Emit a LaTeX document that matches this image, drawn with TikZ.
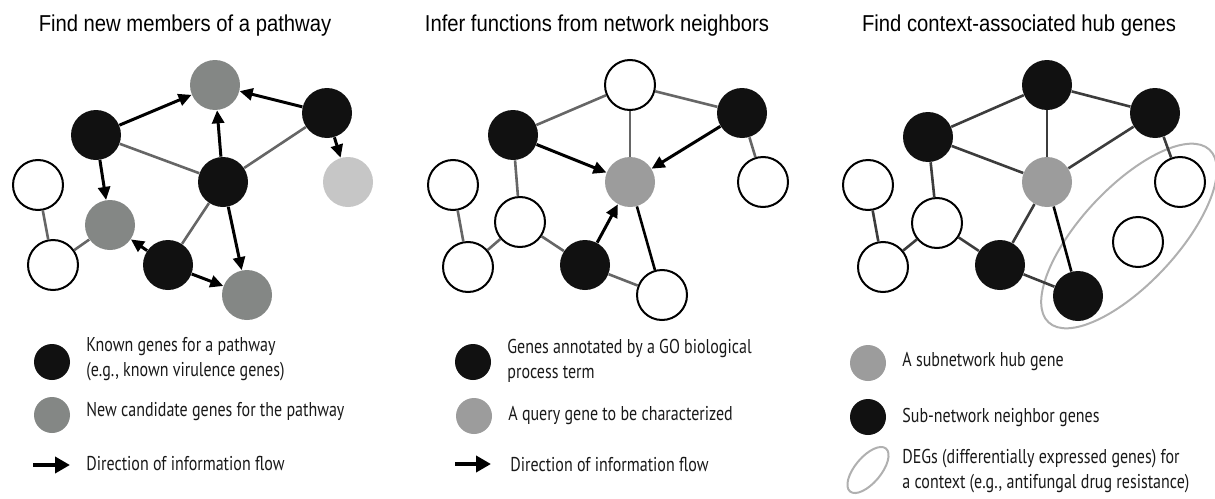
\documentclass[tikz,border=0pt]{standalone}
\usepackage{fontspec}
\setmainfont{Liberation Sans}
\newfontfamily\titlefont[FakeStretch=0.88]{Liberation Sans}
\newfontfamily\legendfont[FakeStretch=0.8]{PT Sans}
\usetikzlibrary{arrows.meta,shapes.geometric}

\definecolor{known}{HTML}{111111}
\definecolor{cand}{HTML}{848785}
\definecolor{query}{HTML}{9C9C9C}
\definecolor{pale}{HTML}{C6C6C6}
\definecolor{linkgray}{HTML}{666666}
\definecolor{linkdark}{HTML}{3C3C3C}
\definecolor{degring}{HTML}{B0B0B0}

\begin{document}
\begin{tikzpicture}[x=0.5pt,y=-0.5pt,
    gene/.style={circle,minimum size=25pt,inner sep=0pt},
    blackgene/.style={gene,fill=known},
    graygene/.style={gene,fill=cand},
    querygene/.style={gene,fill=query},
    palegene/.style={gene,fill=pale},
    whitegene/.style={gene,draw=black,line width=1pt,fill=white},
    link/.style={draw=linkgray,line width=1.3pt},
    darklink/.style={draw=linkdark,line width=1.3pt},
    flow/.style={draw=black,line width=1.5pt,-{Triangle[length=6.5pt,width=6pt]}},
    title/.style={font=\titlefont\fontsize{11.5}{14}\selectfont,anchor=base,inner sep=0pt},
    keytext/.style={font=\legendfont\fontsize{10}{12.5}\selectfont,anchor=west,align=left,inner sep=0pt,text=black!90},
    key/.style={circle,minimum size=18pt,inner sep=0pt}]
  \useasboundingbox (0,0) rectangle (1215,498);

  % titles
  \node[title] (t1) at (185,32) {Find new members of a pathway};
  \node[title] (t2) at (597,32) {Infer functions from network neighbors};
  \node[title] (t3) at (1019,32) {Find context-associated hub genes};

  % panel 1
  \node[graygene]  (a1) at (215,85) {};
  \node[blackgene] (a2) at (96,135) {};
  \node[blackgene] (a3) at (327,113) {};
  \node[palegene]  (a4) at (348,182) {};
  \node[blackgene] (a5) at (223,182) {};
  \node[whitegene] (a6) at (38,185) {};
  \node[graygene]  (a7) at (110,225) {};
  \node[whitegene] (a8) at (53,265) {};
  \node[blackgene] (a9) at (168,265) {};
  \node[graygene]  (a10) at (247,295) {};
  \foreach \u/\v in {a2/a5,a5/a3,a6/a8,a8/a7,a5/a9}
    \draw[link] (\u) -- (\v);
  \foreach \u/\v in {a2/a1,a3/a1,a5/a1,a3/a4,a2/a7,a5/a10,a9/a7,a9/a10}
    \draw[flow] (\u) -- (\v);

  % panel 2
  \node[whitegene] (b1) at (630,85) {};
  \node[blackgene] (b2) at (513,135) {};
  \node[blackgene] (b3) at (742,113) {};
  \node[whitegene] (b4) at (763,182) {};
  \node[querygene] (b5) at (630,182) {};
  \node[whitegene] (b6) at (453,185) {};
  \node[whitegene] (b7) at (520,222) {};
  \node[whitegene] (b8) at (468,267) {};
  \node[blackgene] (b9) at (585,265) {};
  \node[whitegene] (b10) at (662,295) {};
  \foreach \u/\v in {b2/b1,b1/b3,b1/b5,b3/b4,b2/b7,b6/b8,b8/b7,b7/b9,b9/b10}
    \draw[link] (\u) -- (\v);
  \draw[darklink,draw=black] (b5) -- (b10);
  \foreach \u/\v in {b2/b5,b3/b5,b9/b5}
    \draw[flow] (\u) -- (\v);

  % panel 3
  \node[ellipse,draw=degring,line width=1pt,minimum width=236pt*0.5,minimum height=96pt*0.5,
        rotate=47] (degs) at (1129,236) {};
  \node[blackgene] (c1) at (1047,85) {};
  \node[blackgene] (c2) at (928,137) {};
  \node[blackgene] (c3) at (1155,113) {};
  \node[whitegene] (c4) at (1180,182) {};
  \node[querygene] (c5) at (1047,182) {};
  \node[whitegene] (c6) at (868,185) {};
  \node[whitegene] (c7) at (937,223) {};
  \node[whitegene] (c8) at (883,267) {};
  \node[blackgene] (c9) at (1000,265) {};
  \node[blackgene] (c10) at (1078,296) {};
  \node[whitegene] (c11) at (1138,242) {};
  \foreach \u/\v in {c2/c1,c1/c3,c1/c5,c2/c5,c3/c5,c3/c4,c2/c7,c6/c8,c8/c7,c7/c9,c9/c5,c9/c10}
    \draw[darklink] (\u) -- (\v);
  \draw[darklink,draw=black] (c5) -- (c10);

  % legends
  \node[key,fill=known] (k1) at (52,362) {};
  \node[keytext] (k1t) at (86,359) {Known genes for a pathway\\(e.g., known virulence genes)};
  \node[key,fill=cand] (k2) at (52,415) {};
  \node[keytext] (k2t) at (86,412) {New candidate genes for the pathway};
  \coordinate (k3a) at (33,465);
  \coordinate (k3b) at (70,465);
  \draw[line width=2pt,-{Triangle[length=7.5pt,width=8pt]}] (k3a) -- (k3b);
  \node[keytext] (k3t) at (86,463) {Direction of information flow};

  \node[key,fill=known] (m1) at (473,362) {};
  \node[keytext] (m1t) at (507,361) {Genes annotated by a GO biological\\process term};
  \node[key,fill=query] (m2) at (474,416) {};
  \node[keytext] (m2t) at (508,416) {A query gene to be characterized};
  \coordinate (m3a) at (455,464);
  \coordinate (m3b) at (491,464);
  \draw[line width=2pt,-{Triangle[length=7.5pt,width=8pt]}] (m3a) -- (m3b);
  \node[keytext] (m3t) at (510,464) {Direction of information flow};

  \node[key,fill=query] (n1) at (868,363) {};
  \node[keytext] (n1t) at (902,362) {A subnetwork hub gene};
  \node[key,fill=known] (n2) at (868,417) {};
  \node[keytext] (n2t) at (902,417) {Sub-network neighbor genes};
  \node[ellipse,draw=degring,line width=1pt,minimum width=28pt,minimum height=13pt,
        rotate=50,inner sep=0pt] (n3) at (868,470) {};
  \node[keytext] (n3t) at (902,471) {DEGs (differentially expressed genes) for\\a context (e.g., antifungal drug resistance)};
\end{tikzpicture}
\end{document}
